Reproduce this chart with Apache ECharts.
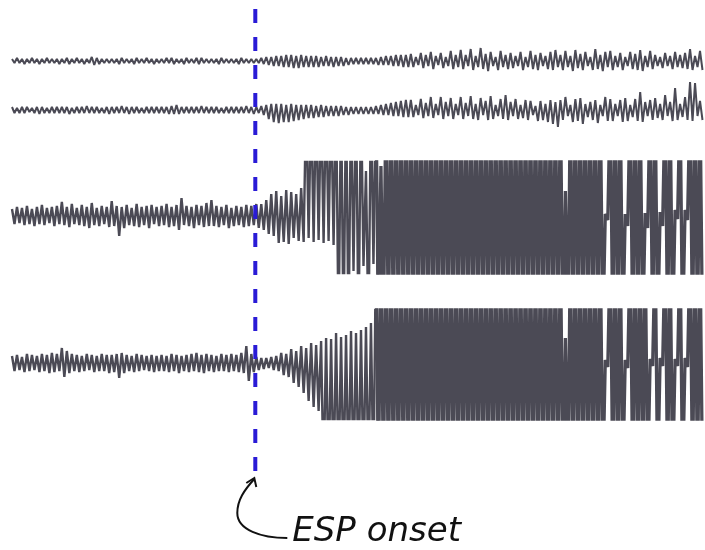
<!DOCTYPE html>
<html>
<head>
<meta charset="utf-8">
<script src="https://cdn.jsdelivr.net/npm/echarts@6/dist/echarts.min.js"></script>
<style>
html, body { margin: 0; background: #fff; }
#chart { width: 705px; height: 550px; }
</style>
</head>
<body>
<div id="chart"></div>
<script>
// peak values per 5px bin (up = positive, px from trace centre)
// trace 1 (top channel)
var t1Hi = [
  2,3,2,2,3,2,2,3,2,2, 2,3,2,3,2,2,4,3,2,2, 2,2,3,2,2,3,2,3,2,2, 2,3,3,2,2,3,2,3,3,2,
  2,2,3,2,2,2,3,2,2,2, 3,4,4,5,5,6,6,5,6,5, 5,5,4,5,4,4,4,3,3,3, 3,3,3,3,4,5,5,6,6,6,
  7,4,8,6,9,5,8,4,10,6, 11,6,12,5,13,7,9,4,10,6, 8,5,9,4,10,6,8,5,9,11, 6,10,5,11,7,9,4,12,6,9,
  10,5,8,4,9,7,11,5,10,6, 4,8,5,9,6,8,12,5,10
];
var t1Lo = [
  -2,-2,-3,-2,-2,-3,-2,-2,-2,-3, -2,-3,-2,-2,-3,-2,-4,-3,-2,-2, -2,-3,-2,-2,-3,-2,-2,-2,-3,-2, -2,-2,-3,-2,-3,-2,-2,-3,-2,-2,
  -2,-3,-2,-2,-2,-3,-2,-2,-2,-2, -3,-4,-5,-5,-6,-6,-7,-7,-6,-6, -6,-6,-5,-5,-6,-5,-5,-4,-3,-3, -3,-3,-3,-4,-4,-4,-5,-5,-6,-6,
  -6,-4,-7,-5,-8,-4,-7,-5,-8,-6, -8,-5,-9,-6,-8,-10,-5,-9,-6,-8, -7,-5,-9,-6,-8,-9,-5,-8,-9,-6, -9,-6,-10,-7,-9,-5,-9,-8,-10,-6,
  -9,-6,-9,-5,-8,-9,-10,-6,-8,-5, -7,-5,-8,-6,-7,-8,-9,-6,-9
];
// trace 2
var t2Hi = [
  3,2,3,3,2,3,3,2,3,3, 3,3,2,3,3,4,3,3,2,3, 3,3,4,3,3,3,2,3,3,3, 3,3,4,5,3,3,3,3,4,3,
  3,3,2,3,3,3,3,4,3,3, 4,5,6,6,6,5,6,5,5,5, 5,4,5,4,4,4,4,3,3,3, 3,3,3,4,5,6,7,8,9,10,
  10,5,11,7,13,6,13,8,12,6, 13,7,14,6,12,9,14,5,11,15, 8,11,5,10,9,4,9,6,10,8, 10,13,5,11,12,6,8,10,5,13,
  11,6,10,12,5,11,18,8,10,12, 6,15,8,22,6,13,28,27,9
];
var t2Lo = [
  -3,-3,-3,-2,-3,-4,-3,-3,-3,-3, -3,-4,-3,-3,-3,-3,-3,-3,-3,-4, -3,-3,-3,-4,-3,-3,-3,-3,-3,-3, -3,-4,-4,-4,-3,-3,-3,-3,-3,-3,
  -3,-3,-3,-3,-3,-3,-3,-3,-4,-3, -5,-9,-12,-13,-12,-12,-11,-10,-9,-8, -8,-7,-7,-6,-6,-6,-5,-5,-4,-4, -4,-4,-4,-4,-5,-5,-6,-6,-7,-7,
  -7,-5,-8,-6,-8,-5,-9,-6,-9,-5, -9,-6,-9,-10,-5,-10,-9,-6,-9,-10, -6,-9,-8,-10,-5,-11,-10,-12,-14,-17, -10,-6,-12,-11,-14,-7,-10,-13,-6,-11,
  -11,-6,-12,-11,-7,-11,-12,-6,-10,-8, -10,-6,-11,-10,-7,-10,-11,-6,-10
];
// trace 3 (±120 = far past the clipped top / bottom)
var t3Hi = [
  7,9,8,10,7,9,11,8,9,10, 14,9,12,8,11,9,13,8,10,9, 15,10,9,11,8,12,9,10,11,9, 10,12,9,11,18,10,9,11,10,13,
  16,10,9,11,8,10,9,11,10,12, 12,16,22,25,20,26,24,22,28,120, 120,120,120,120,120,120,120,120,120,120,
  120,45,120,120,50,120,120,120,120,120, 120,120,120,120,120,120,120,120,120,120, 120,120,120,120,120,120,120,120,120,120,
  120,120,120,120,120,120,120,120,120,120, 120,25,120,120,120,120,120,120,120,2,
  120,120,120,2,120,120,120,3,120,120, 4,120,120,6,120,6,120,120,120
];
var t3Lo = [
  -8,-7,-9,-8,-10,-8,-9,-7,-10,-8, -9,-11,-8,-9,-10,-12,-9,-10,-8,-11, -10,-20,-12,-9,-10,-11,-9,-12,-8,-10, -9,-11,-10,-14,-9,-10,-12,-9,-11,-10,
  -10,-11,-9,-12,-10,-9,-11,-10,-9,-12, -14,-18,-20,-27,-26,-28,-22,-25,-26,-22, -26,-24,-27,-25,-29,-120,-120,-120,-55,-120,
  -50,-120,-48,-120,-120,-120,-120,-120,-120,-120, -120,-120,-120,-120,-120,-120,-120,-120,-120,-120, -120,-120,-120,-120,-120,-120,-120,-120,-120,-120,
  -120,-120,-120,-120,-120,-120,-120,-120,-120,-120, -120,-120,-120,-120,-120,-120,-120,-120,-120,-4,
  -120,-120,-120,-10,-120,-120,-120,-12,-120,-120, -10,-120,-120,-3,-120,-4,-120,-120,-120
];
// trace 4
var t4Hi = [
  7,8,6,9,8,7,9,8,10,9, 15,12,9,8,7,9,8,7,9,8, 8,9,10,8,7,9,8,7,8,7, 8,7,9,8,7,8,9,10,8,9,
  8,7,9,8,9,8,10,17,9,6, 5,5,6,7,10,9,14,12,17,15, 20,18,22,25,24,30,26,28,32,30, 33,36,40,120,120,120,120,120,120,120,
  120,120,120,120,120,120,120,120,120,120, 120,120,120,120,120,120,120,120,120,120, 120,120,120,120,120,120,120,120,120,120,
  120,25,120,120,120,120,120,120,120,3,
  120,120,120,3,120,120,120,120,4,120, 5,120,120,4,120,5,120,120,120
];
var t4Lo = [
  -8,-7,-9,-8,-7,-9,-8,-10,-9,-8, -14,-10,-8,-9,-8,-7,-9,-8,-8,-10, -9,-15,-10,-8,-9,-8,-7,-8,-9,-8, -8,-9,-8,-10,-8,-9,-8,-9,-10,-8,
  -9,-8,-8,-9,-8,-9,-10,-18,-9,-7, -6,-5,-7,-8,-12,-14,-20,-24,-30,-38, -44,-48,-120,-120,-120,-120,-120,-120,-120,-120,
  -120,-120,-120,-120,-120,-120,-120,-120,-120,-120, -120,-120,-120,-120,-120,-120,-120,-120,-120,-120, -120,-120,-120,-120,-120,-120,-120,-120,-120,-120,
  -120,-120,-120,-120,-120,-120,-120,-120,-120,-120, -120,-120,-120,-120,-120,-120,-120,-120,-120,-4,
  -120,-120,-120,-5,-120,-120,-120,-120,-3,-120, -3,-120,-120,-3,-120,-4,-120,-120,-120
];
var onset = 48.8;          // bin where the ESP onset line sits
var fullFrom = 73;         // bin from which traces 3 and 4 stay saturated
var label = 'ESP onset';

var traceColor = '#4b4a55';

// interleave peaks and troughs into one line
function zig(hi, lo, from, to) {
  var d = [];
  for (var i = from; i < to; i++) {
    d.push([i, hi[i]]);
    d.push([i + 0.5, lo[i]]);
  }
  return d;
}

var myChart = echarts.init(document.getElementById('chart'));

var grids = [
  { left: 12, width: 695, top: 31, height: 60 },
  { left: 12, width: 695, top: 75, height: 70 },
  { left: 12, width: 695, top: 162, height: 111 },
  { left: 12, width: 695, top: 310, height: 109 },
  { left: 12, width: 695, top: 9, height: 462 }
];
var yRange = [[-30, 30], [-35, 35], [-57, 54], [-56, 53], [0, 1]];

var xAxes = [], yAxes = [];
for (var k = 0; k < 5; k++) {
  xAxes.push({ type: 'value', gridIndex: k, min: 0, max: 139, show: false });
  yAxes.push({ type: 'value', gridIndex: k, min: yRange[k][0], max: yRange[k][1], show: false });
}

function trace(k, hi, lo, w, from, to) {
  return {
    type: 'line', xAxisIndex: k, yAxisIndex: k,
    data: zig(hi, lo, from == null ? 0 : from, to == null ? hi.length : to),
    symbol: 'none', clip: true, silent: true,
    lineStyle: { color: traceColor, width: w, join: 'bevel' }
  };
}

var option = {
  animation: false,
  grid: grids,
  xAxis: xAxes,
  yAxis: yAxes,
  series: [
    trace(0, t1Hi, t1Lo, 2),
    trace(1, t2Hi, t2Lo, 2),
    trace(2, t3Hi, t3Lo, 2.4, 0, fullFrom + 1),
    trace(2, t3Hi, t3Lo, 3.3, fullFrom, t3Hi.length),
    trace(3, t4Hi, t4Lo, 2.4, 0, fullFrom + 1),
    trace(3, t4Hi, t4Lo, 3.3, fullFrom, t4Hi.length),
    {
      type: 'line', xAxisIndex: 4, yAxisIndex: 4,
      data: [[onset, 1], [onset, 0]],
      symbol: 'none', silent: true, z: 5,
      lineStyle: { color: '#2a1bd6', width: 4, type: [14, 14] }
    }
  ]
};
myChart.setOption(option);

// arrow + label hang off the bottom of the onset line
var p = myChart.convertToPixel({ gridIndex: 4 }, [onset, 0]);
var tx = p[0] - 1, ty = p[1] + 7;
var ink = { fill: null, stroke: '#111', lineWidth: 2 };
myChart.setOption({
  graphic: [
    {
      type: 'bezierCurve',
      shape: {
        x1: tx + 33, y1: ty + 60, x2: tx - 17, y2: ty + 35,
        cpx1: tx + 7, cpy1: ty + 60, cpx2: tx - 17, cpy2: ty + 52
      },
      style: ink
    },
    {
      type: 'bezierCurve',
      shape: {
        x1: tx - 17, y1: ty + 35, x2: tx, y2: ty + 1,
        cpx1: tx - 17, cpy1: ty + 22, cpx2: tx - 10, cpy2: ty + 12
      },
      style: ink
    },
    {
      type: 'polyline',
      shape: { points: [[tx - 8, ty + 5], [tx, ty], [tx + 2, ty + 9]] },
      style: ink
    },
    {
      type: 'text',
      style: {
        text: label, x: tx + 38, y: ty + 54,
        font: 'oblique 34px "DejaVu Sans"', fill: '#111',
        verticalAlign: 'middle'
      }
    }
  ]
});

window.onresize = function () {
  myChart.resize();
};
</script>
</body>
</html>
